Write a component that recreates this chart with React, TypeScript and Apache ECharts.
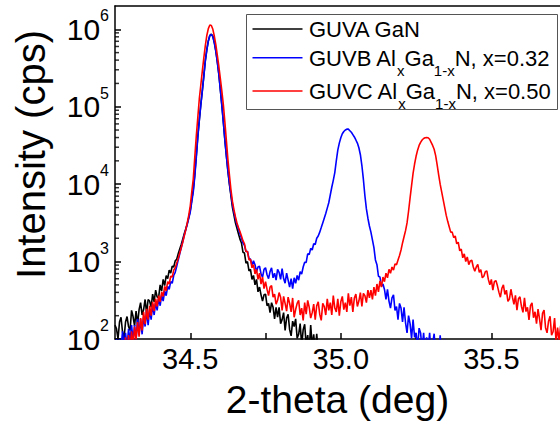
import React, { useEffect, useRef } from 'react';
import * as echarts from 'echarts';

// 2-theta sampling grid (deg)
const X_START = 34.25;
const X_STEP = 0.005;
const X_RANGE = [34.25, 35.728];
const Y_RANGE = [100, 2000000];

// Intensity (cps), one value per grid step
const GUVA = [
  151, 135, 100, 166, 191, 123, 102, 166, 195, 145,
  129, 234, 195, 148, 229, 155, 240, 295, 204, 240,
  324, 214, 324, 309, 257, 380, 302, 427, 347, 347,
  501, 417, 589, 490, 661, 603, 776, 708, 871, 851,
  1020, 1070, 1260, 1450, 1660, 1950, 2290, 2630, 3090, 3720,
  4570, 6310, 8510, 13500, 23400, 41700, 67600, 107000, 162000, 251000,
  398000, 550000, 708000, 832000, 865000, 813000, 676000, 525000, 380000, 263000,
  166000, 105000, 63100, 37200, 23400, 14800, 10000, 7080, 5010, 3980,
  3160, 2690, 2290, 1950, 1740, 1320, 1290, 955, 1000, 759,
  794, 589, 661, 501, 589, 407, 468, 372, 309, 372,
  380, 269, 288, 219, 295, 257, 182, 257, 191, 257,
  158, 178, 219, 129, 186, 209, 132, 110, 170, 145,
  182, 102, 115, 158, 83, 132, 155, 83, 112, 72,
  151, 81, 115, 68, 117, 68, 95, 72, 87,
];

const GUVB = [
  71, 100, 68, 100, 76, 126, 78, 120, 79, 135,
  93, 151, 95, 151, 98, 182, 115, 182, 115, 191,
  145, 234, 151, 240, 178, 282, 204, 295, 234, 339,
  269, 372, 309, 417, 363, 479, 437, 550, 525, 661,
  724, 871, 1050, 1260, 1510, 1820, 2190, 2570, 3020, 3630,
  4370, 5890, 7940, 12600, 21900, 39800, 66100, 105000, 158000, 245000,
  389000, 537000, 708000, 832000, 861000, 804000, 661000, 513000, 372000, 257000,
  162000, 102000, 61700, 36300, 22900, 14800, 10200, 7410, 5500, 4370,
  3550, 3020, 2630, 2290, 2000, 1740, 1620, 1350, 1350, 1100,
  1070, 912, 1020, 912, 741, 851, 871, 692, 631, 794,
  832, 676, 603, 741, 832, 617, 708, 575, 794, 724,
  589, 813, 603, 525, 708, 575, 468, 603, 447, 617,
  525, 661, 575, 741, 692, 851, 977, 977, 1260, 1230,
  1480, 1410, 1700, 1660, 2000, 2140, 2400, 2750, 3160, 3630,
  4170, 4900, 5750, 7240, 9120, 11200, 14100, 20000, 27500, 33900,
  39800, 44700, 47900, 50100, 51300, 51300, 49000, 46800, 43700, 40700,
  37200, 33900, 29500, 24000, 17400, 11500, 7080, 4790, 3630, 2880,
  2400, 1910, 1510, 1050, 912, 646, 631, 479, 513, 437,
  324, 437, 309, 251, 339, 372, 234, 263, 178, 288,
  251, 166, 257, 162, 120, 200, 158, 102, 178, 105,
  120, 76, 138, 120, 72, 120, 68, 105, 71, 120,
  65, 87, 117, 60, 89, 58, 112, 60, 79, 98, 52, 79, 89,
];

const GUVC = [
  56, 78, 59, 87, 60, 93, 65, 105, 66, 112,
  74, 126, 81, 145, 98, 166, 107, 186, 129, 224,
  155, 245, 178, 269, 200, 302, 229, 331, 263, 363,
  302, 407, 355, 479, 417, 550, 513, 646, 631, 776,
  832, 955, 1100, 1290, 1510, 1780, 2140, 2570, 3160, 3980,
  5250, 7940, 11700, 22400, 41700, 72400, 126000, 191000, 288000, 427000,
  617000, 832000, 1020000, 1135000, 1120000, 1000000, 813000, 631000, 457000, 331000,
  229000, 158000, 105000, 63100, 36300, 20900, 13200, 8510, 6030, 4680,
  3800, 3160, 2750, 2450, 2140, 1860, 1700, 1350, 1350, 1050,
  1070, 832, 912, 692, 794, 589, 708, 513, 631, 447,
  550, 437, 363, 468, 490, 347, 380, 282, 316, 398,
  347, 234, 355, 288, 229, 347, 288, 224, 339, 191,
  240, 288, 316, 204, 251, 174, 295, 209, 316, 257,
  186, 219, 282, 178, 269, 302, 209, 174, 288, 263,
  204, 331, 234, 295, 204, 363, 251, 224, 331, 200,
  302, 355, 240, 295, 224, 389, 269, 347, 224, 339,
  380, 263, 309, 398, 263, 389, 363, 295, 427, 339,
  427, 324, 468, 363, 513, 407, 562, 468, 631, 550,
  708, 617, 794, 708, 851, 776, 933, 912, 1050, 1200,
  1410, 1740, 2090, 2510, 3160, 4470, 6610, 9550, 13800, 18200,
  22900, 27500, 31600, 34700, 37200, 38900, 39800, 39900, 39800, 38000,
  34700, 31600, 28200, 23400, 17800, 13200, 10000, 7940, 6310, 5010,
  3980, 3310, 2820, 2400, 2400, 2040, 2140, 1700, 1780, 1380,
  1450, 1120, 1260, 1000, 1150, 912, 1020, 1040, 851, 750,
  851, 923, 724, 785, 617, 646, 741, 759, 589, 501,
  589, 427, 550, 569, 490, 403, 347, 452, 501, 376,
  427, 307, 327, 439, 347, 280, 367, 236, 331, 351,
  263, 221, 339, 226, 257, 176, 269, 293, 188, 225,
  158, 243, 182, 130, 214, 236, 140, 120, 170, 197,
  112, 124, 186, 92, 140, 95, 148,
];

const SERIES_NAMES = ['GUVA GaN', 'GUVB AlxGa1-xN, x=0.32', 'GUVC AlxGa1-xN, x=0.50'];
const SERIES_VALUES = [GUVA, GUVB, GUVC];
const SERIES_COLORS = ['#000000', '#0000ff', '#ff0000'];
// legend text pieces: [text, isSubscript]
const LEGEND_ROWS: [string, boolean][][] = [
  [['GUVA GaN', false]],
  [['GUVB Al', false], ['x', true], ['Ga', false], ['1-x', true], ['N, x=0.32', false]],
  [['GUVC Al', false], ['x', true], ['Ga', false], ['1-x', true], ['N, x=0.50', false]],
];
const Y_MINOR_TICKS = [
  200, 300, 400, 500, 600, 700, 800, 900,
  2000, 3000, 4000, 5000, 6000, 7000, 8000, 9000,
  20000, 30000, 40000, 50000, 60000, 70000, 80000, 90000,
  200000, 300000, 400000, 500000, 600000, 700000, 800000, 900000,
];

const FONT = '"Liberation Sans", Arial, Helvetica, sans-serif';
const AXIS_LINE = { color: '#000', width: 1.5 };
const LEGEND_BOX = { x: 246.5, y: 14.5, width: 311, height: 95 };
const LEGEND_ROW_Y = [29, 57.7, 91];
const LEGEND_LINE_X = [252.5, 302.5];
const LEGEND_TEXT_X = 309;
const MAIN_SIZE = 22;
const SUB_SIZE = 15;
const SUB_DROP = 12.5;

function toPairs(values: number[]): [number, number][] {
  return values.map((v, i) => [Number((X_START + i * X_STEP).toFixed(3)), v]);
}

function legendGraphic(): any[] {
  const ctx = document.createElement('canvas').getContext('2d') as CanvasRenderingContext2D;
  const els: any[] = [
    {
      type: 'rect',
      shape: { ...LEGEND_BOX },
      style: { fill: '#ffffff', stroke: '#555555', lineWidth: 1 },
      z: 100,
      silent: true,
    },
  ];
  LEGEND_ROWS.forEach((parts, r) => {
    const cy = LEGEND_ROW_Y[r];
    els.push({
      type: 'line',
      shape: { x1: LEGEND_LINE_X[0], y1: cy, x2: LEGEND_LINE_X[1], y2: cy },
      style: { stroke: SERIES_COLORS[r], lineWidth: 1.5 },
      z: 101,
      silent: true,
    });
    let x = LEGEND_TEXT_X;
    parts.forEach(([t, sub]) => {
      const font = `${sub ? SUB_SIZE : MAIN_SIZE}px ${FONT}`;
      ctx.font = font;
      els.push({
        type: 'text',
        x,
        y: cy + (sub ? SUB_DROP : 0.5),
        style: { text: t, font, fill: '#000', align: 'left', verticalAlign: 'middle' },
        z: 101,
        silent: true,
      });
      x += ctx.measureText(t).width;
    });
  });
  return els;
}

function buildOption(): any {
  return {
    animation: false,
    backgroundColor: '#ffffff',
    grid: { left: 115, right: 0, top: 6, bottom: 84, containLabel: false, outerBoundsMode: 'none' },
    xAxis: [
      {
        type: 'value',
        position: 'bottom',
        min: X_RANGE[0],
        max: X_RANGE[1],
        interval: 0.25,
        name: '2-theta (deg)',
        nameLocation: 'middle',
        nameGap: 41,
        nameTextStyle: { fontSize: 39, color: '#000', fontFamily: FONT },
        axisLine: { show: true, onZero: false, lineStyle: AXIS_LINE },
        axisTick: { show: true, inside: true, length: 6, lineStyle: AXIS_LINE },
        axisLabel: {
          show: true,
          margin: 5,
          color: '#000',
          fontSize: 29,
          fontFamily: FONT,
          showMinLabel: false,
          showMaxLabel: false,
          formatter: (v: number) => (Math.abs(v * 2 - Math.round(v * 2)) < 1e-6 ? v.toFixed(1) : ''),
        },
        splitLine: { show: false },
      },
      {
        type: 'value',
        position: 'top',
        min: X_RANGE[0],
        max: X_RANGE[1],
        axisLine: { show: true, onZero: false, lineStyle: AXIS_LINE },
        axisTick: { show: false },
        axisLabel: { show: false },
        splitLine: { show: false },
      },
    ],
    yAxis: {
      type: 'log',
      logBase: 10,
      min: Y_RANGE[0],
      max: Y_RANGE[1],
      axisLine: { show: true, onZero: false, lineStyle: AXIS_LINE },
      axisTick: { show: true, inside: true, length: 6, lineStyle: AXIS_LINE },
      axisLabel: {
        show: true,
        margin: 6,
        showMaxLabel: false,
        formatter: (v: number) => {
          const e = Math.log10(v);
          return Math.abs(e - Math.round(e)) < 1e-6 ? `{b|10}{s|${Math.round(e)}}` : '';
        },
        rich: {
          b: { fontSize: 30, lineHeight: 30, fontFamily: FONT, color: '#000', verticalAlign: 'middle' },
          s: { fontSize: 16, lineHeight: 30, fontFamily: FONT, color: '#000', verticalAlign: 'middle', padding: [0, 0, 27, 0] },
        },
      },
      splitLine: { show: false },
    },
    graphic: [
      {
        type: 'text',
        x: 31,
        y: 154.5,
        rotation: Math.PI / 2,
        style: {
          text: 'Intensity (cps)',
          font: `40px ${FONT}`,
          fill: '#000',
          align: 'center',
          verticalAlign: 'middle',
        },
        silent: true,
      },
      ...legendGraphic(),
    ],
    series: [
      ...SERIES_NAMES.map((name, k) => ({
        type: 'line',
        name,
        data: toPairs(SERIES_VALUES[k]),
        xAxisIndex: 0,
        yAxisIndex: 0,
        showSymbol: false,
        symbol: 'none',
        color: SERIES_COLORS[k],
        itemStyle: { color: SERIES_COLORS[k] },
        lineStyle: { color: SERIES_COLORS[k], width: 1.6 },
        silent: true,
        clip: true,
        z: 2 + k,
      })),
      {
        type: 'scatter',
        name: 'minor ticks',
        data: Y_MINOR_TICKS.map((v) => [X_RANGE[0], v]),
        symbol: 'rect',
        symbolSize: [4, 1.5],
        symbolOffset: [2, 0],
        itemStyle: { color: '#000' },
        silent: true,
        clip: false,
        z: 6,
      },
    ],
  };
}

export default function App() {
  const ref = useRef<HTMLDivElement>(null);
  useEffect(() => {
    if (!ref.current) return;
    const chart = echarts.init(ref.current, undefined, { renderer: 'svg' });
    chart.setOption(buildOption());
    return () => chart.dispose();
  }, []);
  return (
    <div
      ref={ref}
      style={{ position: 'absolute', left: 0, top: 0, width: 560, height: 423, background: '#fff' }}
    />
  );
}
